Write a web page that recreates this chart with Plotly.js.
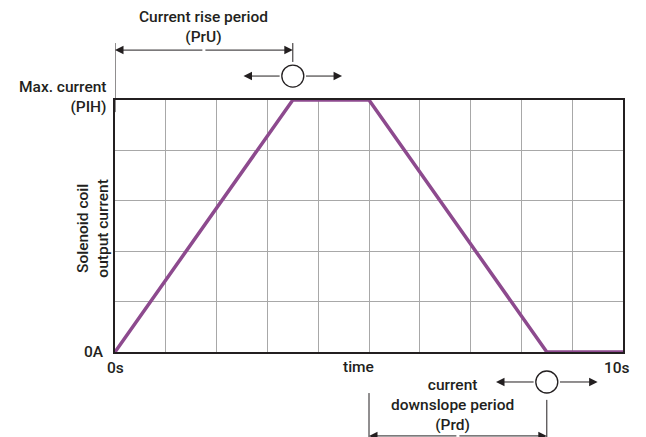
<!DOCTYPE html>
<html><head><meta charset="utf-8">
<script src="https://cdn.plot.ly/plotly-3.0.1.min.js"></script>
<style>html,body{margin:0;padding:0;background:#fff}#chart{width:646px;height:437px}</style>
</head><body><div id="chart"></div>
<script>
// Data
const timeS = [0, 3.5, 5, 8.5, 10];
const currentLevel = [0, 1, 1, 0, 0];
const xTickLabels = ['0s', 'time', '10s'];
const yTickLabels = ['0A', 'Max. current<br>(PIH)'];
const riseLabel = 'Current rise period<br>(PrU)';
const downLabel = 'current<br>downslope period<br>(Prd)';
const yAxisLabel = 'Solenoid coil<br>output current';

const riseStart = timeS[0], riseEnd = timeS[1], downStart = timeS[2], downEnd = timeS[3];
const FONT = 'Roboto, Liberation Sans, Arial, sans-serif';
const TXT = '#231f20';
const fnt = {family: FONT, size: 15.5, color: TXT, weight: 500};

const trace = {
  x: timeS, y: currentLevel, type: 'scatter', mode: 'lines',
  line: {color: '#8d4a8e', width: 3.5}, hoverinfo: 'skip', cliponaxis: false
};

function arrow(xHead, xTail, yP) {
  return {xref: 'x', yref: 'paper', x: xHead, y: yP, axref: 'x', ayref: 'pixel',
    ax: xTail, ay: 0, showarrow: true, arrowhead: 2, arrowsize: 1.7, arrowwidth: 1,
    arrowcolor: '#231f20', text: '', standoff: 0, startstandoff: 0};
}
function txt(text, x, y, xref, opts) {
  return Object.assign({xref: xref, yref: 'paper', x: x, y: y, text: text, showarrow: false,
    font: fnt, align: 'center'}, opts || {});
}
function vline(x, y0, y1) {
  return {type: 'line', xref: 'x', yref: 'paper', x0: x, x1: x, y0: y0, y1: y1,
    line: {color: '#231f20', width: 1}};
}
function circ(x, yP) {
  return {type: 'circle', xref: 'x', yref: 'paper', xsizemode: 'pixel', ysizemode: 'pixel',
    xanchor: x, yanchor: yP, x0: -11, x1: 11, y0: -11, y1: 11,
    line: {color: '#231f20', width: 1.3}, fillcolor: '#fff'};
}

const topArrowY = 1.198, topCircY = 1.095, botCircY = -0.119, botArrowY = -0.333;

const layout = {
  width: 646, height: 437,
  margin: {l: 115, r: 23, t: 100, b: 85},
  paper_bgcolor: '#fff', plot_bgcolor: '#fff',
  showlegend: false,
  xaxis: {range: [0, 10], dtick: 1, tick0: 0, showgrid: true, gridcolor: '#a8a8a8', gridwidth: 1,
    showticklabels: false, zeroline: false, showline: true, mirror: true, linecolor: '#231f20',
    linewidth: 2, ticks: '', fixedrange: true},
  yaxis: {range: [0, 1], dtick: 0.2, tick0: 0, showgrid: true, gridcolor: '#a8a8a8', gridwidth: 1,
    showticklabels: false, zeroline: false, showline: true, mirror: true, linecolor: '#231f20',
    linewidth: 2, ticks: '', fixedrange: true},
  shapes: [
    vline(riseStart, 0.952, 1.226),
    vline(riseEnd, 1.151, 1.226),
    vline(downStart, -0.163, -0.34),
    vline(downEnd, -0.19, -0.34),
    circ(riseEnd, topCircY),
    circ(downEnd, botCircY)
  ],
  annotations: [
    arrow(riseStart, (riseStart + riseEnd) / 2, topArrowY),
    arrow(riseEnd, (riseStart + riseEnd) / 2, topArrowY),
    arrow(downStart, (downStart + downEnd) / 2, botArrowY),
    arrow(downEnd, (downStart + downEnd) / 2, botArrowY),
    arrow(riseEnd - 0.97, riseEnd - 0.23, topCircY),
    arrow(riseEnd + 0.97, riseEnd + 0.23, topCircY),
    arrow(downEnd - 1.0, downEnd - 0.23, botCircY),
    arrow(downEnd + 1.0, downEnd + 0.23, botCircY),
    txt(riseLabel, (riseStart + riseEnd) / 2, 1.29, 'x', {yanchor: 'middle'}),
    txt(downLabel, 6.65, -0.21, 'x', {yanchor: 'middle'}),
    txt(yTickLabels[1], -0.014, 1.012, 'paper', {xanchor: 'right', align: 'right', yanchor: 'middle'}),
    txt(yTickLabels[0], -0.018, 0.0, 'paper', {xanchor: 'right', yanchor: 'middle'}),
    txt(xTickLabels[0], 0, -0.065, 'x', {yanchor: 'middle'}),
    txt(xTickLabels[1], 4.8, -0.06, 'x', {yanchor: 'middle'}),
    txt(xTickLabels[2], 9.88, -0.065, 'x', {yanchor: 'middle'}),
    txt(yAxisLabel, -0.045, 0.49, 'paper', {textangle: -90, xanchor: 'center', yanchor: 'middle'})
  ]
};

Plotly.newPlot('chart', [trace], layout, {staticPlot: true, displayModeBar: false});
</script>
</body></html>
